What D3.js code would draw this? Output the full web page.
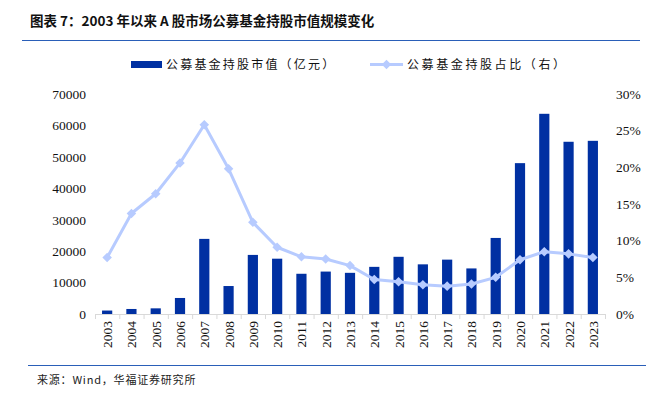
<!DOCTYPE html>
<html>
<head>
<meta charset="utf-8">
<script src="https://cdn.jsdelivr.net/npm/d3@7"></script>
<style>
  body { margin: 0; background: #fff; }
  svg { display: block; }
</style>
</head>
<body>
<script>
// data
const years = ["2003","2004","2005","2006","2007","2008","2009","2010","2011","2012","2013",
               "2014","2015","2016","2017","2018","2019","2020","2021","2022","2023"]
const marketValue = [1100, 1600, 1800, 5100, 23900, 8900, 18800, 17600, 12800, 13500, 13100,
                     15000, 18200, 15800, 17300, 14500, 24200, 48000, 63700, 54800, 55100]
const shareRatio = [7.7, 13.7, 16.4, 20.6, 25.8, 19.8, 12.5, 9.1, 7.8, 7.5, 6.6,
                    4.7, 4.4, 4.0, 3.8, 4.1, 5.0, 7.4, 8.5, 8.2, 7.7]
const leftTicks = [0, 10000, 20000, 30000, 40000, 50000, 60000, 70000]
const rightTicks = [0, 5, 10, 15, 20, 25, 30]

const W = 661, H = 398
const barColor = "#0030a2"
const lineColor = "#b7cbff"
const serif = "'Liberation Serif', 'Times New Roman', serif"
const cjk = "'Noto Sans CJK SC', sans-serif"

const svg = d3.select("body").append("svg")
    .attr("width", W)
    .attr("height", H)

// title
svg.append("text")
    .attr("x", 30).attr("y", 26)
    .attr("font-family", cjk)
    .attr("font-weight", "bold")
    .attr("font-size", 13.5)
    .attr("fill", "#111")
    .text("图表 7：2003 年以来 A 股市场公募基金持股市值规模变化")

svg.append("line")
    .attr("x1", 22).attr("x2", 640).attr("y1", 40.5).attr("y2", 40.5)
    .attr("stroke", "#2a5fb8").attr("stroke-width", 1.2)

const x = d3.scaleBand()
    .domain(years)
    .range([95, 605])
    .paddingInner(0.58)
    .paddingOuter(0.29)

const xOuter = d3.scaleBand().domain(years).range([95, 605])

const yL = d3.scaleLinear().domain([0, 70000]).range([314, 94])
const yR = d3.scaleLinear().domain([0, 30]).range([314, 94])

// left axis
const leftAxis = svg.append("g")
    .attr("transform", "translate(86,0)")
    .call(d3.axisLeft(yL).tickValues(leftTicks).tickFormat(d3.format("d")).tickSize(0).tickPadding(0))
leftAxis.select(".domain").remove()
leftAxis.selectAll("text")
    .attr("font-family", serif).attr("font-size", 13.5).attr("fill", "#111")

// right axis
const rightAxis = svg.append("g")
    .attr("transform", "translate(616,0)")
    .call(d3.axisRight(yR).tickValues(rightTicks).tickFormat(d => d + "%").tickSize(0).tickPadding(0))
rightAxis.select(".domain").remove()
rightAxis.selectAll("text")
    .attr("font-family", serif).attr("font-size", 13.5).attr("fill", "#111")

// bars
svg.append("g")
    .selectAll("rect")
    .data(years)
    .enter()
    .append("rect")
    .attr("x", d => x(d))
    .attr("width", x.bandwidth())
    .attr("y", (d, i) => yL(marketValue[i]))
    .attr("height", (d, i) => 314 - yL(marketValue[i]))
    .attr("fill", barColor)

// x axis line with ticks at category boundaries
svg.append("line")
    .attr("x1", 95).attr("x2", 605).attr("y1", 314.5).attr("y2", 314.5)
    .attr("stroke", "#d9d9d9")
svg.append("g")
    .selectAll("line")
    .data(years.concat(["end"]))
    .enter()
    .append("line")
    .attr("x1", (d, i) => 95 + i * xOuter.step() + 0.5)
    .attr("x2", (d, i) => 95 + i * xOuter.step() + 0.5)
    .attr("y1", 314).attr("y2", 319)
    .attr("stroke", "#d9d9d9")

svg.append("g")
    .selectAll("text")
    .data(years)
    .enter()
    .append("text")
    .attr("transform", d => `translate(${xOuter(d) + xOuter.bandwidth() / 2 + 5},${321}) rotate(-90)`)
    .attr("text-anchor", "end")
    .attr("font-family", serif)
    .attr("font-size", 13.5)
    .attr("fill", "#111")
    .text(d => d)

// ratio line
const line = d3.line()
    .x((d, i) => x(years[i]) + x.bandwidth() / 2)
    .y(d => yR(d))

svg.append("path")
    .datum(shareRatio)
    .attr("d", line)
    .attr("fill", "none")
    .attr("stroke", lineColor)
    .attr("stroke-width", 3)
    .attr("stroke-linejoin", "round")

const diamond = d3.symbol().type(d3.symbolDiamond2).size(58)
svg.append("g")
    .selectAll("path")
    .data(shareRatio)
    .enter()
    .append("path")
    .attr("d", diamond)
    .attr("transform", (d, i) => `translate(${x(years[i]) + x.bandwidth() / 2},${yR(d)})`)
    .attr("fill", lineColor)

// legend
const legend = svg.append("g").attr("font-family", cjk).attr("font-size", 12).attr("fill", "#111")
legend.append("rect")
    .attr("x", 131).attr("y", 61).attr("width", 31).attr("height", 7)
    .attr("fill", barColor)
legend.append("text")
    .attr("x", 166).attr("y", 69)
    .attr("letter-spacing", 2.2)
    .text("公募基金持股市值（亿元）")
legend.append("line")
    .attr("x1", 370).attr("x2", 403).attr("y1", 64.5).attr("y2", 64.5)
    .attr("stroke", lineColor).attr("stroke-width", 3)
legend.append("path")
    .attr("d", diamond)
    .attr("transform", "translate(386.5,64.5)")
    .attr("fill", lineColor)
legend.append("text")
    .attr("x", 407).attr("y", 69)
    .attr("letter-spacing", 2.6)
    .text("公募基金持股占比（右）")

// footer
svg.append("line")
    .attr("x1", 28).attr("x2", 646).attr("y1", 365.5).attr("y2", 365.5)
    .attr("stroke", "#2a5fb8").attr("stroke-width", 1.2)
svg.append("text")
    .attr("x", 37).attr("y", 384)
    .attr("font-family", cjk)
    .attr("font-size", 11)
    .attr("letter-spacing", 0.8)
    .attr("fill", "#222")
    .text("来源：Wind，华福证券研究所")
</script>
</body>
</html>
